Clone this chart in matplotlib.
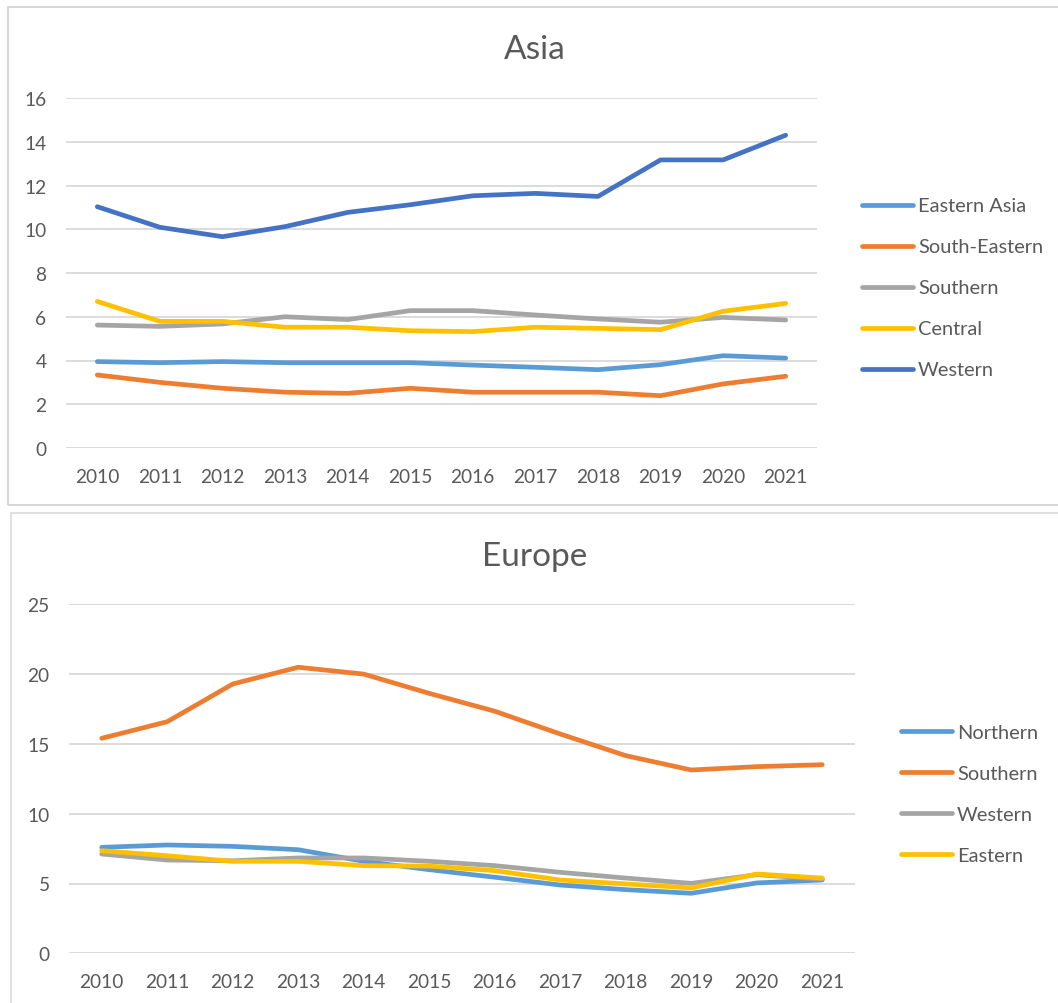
### Two Excel-style line charts: Asia and Europe regional series, 2010-2021

import matplotlib.pyplot as plt
from matplotlib.patches import Rectangle

##### DATA #####

years = ["2010", "2011", "2012", "2013", "2014", "2015",
         "2016", "2017", "2018", "2019", "2020", "2021"]

# Asia
asia_labels = ["Eastern Asia", "South-Eastern", "Southern", "Central", "Western"]
asia_eastern = [3.95, 3.90, 3.95, 3.90, 3.90, 3.90, 3.79, 3.69, 3.58, 3.81, 4.22, 4.11]
asia_south_eastern = [3.34, 3.00, 2.73, 2.55, 2.50, 2.73, 2.55, 2.55, 2.55, 2.39, 2.93, 3.28]
asia_southern = [5.62, 5.56, 5.67, 6.00, 5.87, 6.28, 6.28, 6.08, 5.90, 5.75, 5.97, 5.85]
asia_central = [6.70, 5.79, 5.79, 5.52, 5.52, 5.36, 5.32, 5.52, 5.47, 5.41, 6.25, 6.61]
asia_western = [11.03, 10.09, 9.66, 10.12, 10.77, 11.12, 11.53, 11.64, 11.50, 13.17, 13.17, 14.30]

# Europe
europe_labels = ["Northern", "Southern", "Western", "Eastern"]
europe_northern = [7.59, 7.76, 7.66, 7.42, 6.59, 5.99, 5.45, 4.89, 4.56, 4.30, 5.04, 5.25]
europe_southern = [15.40, 16.59, 19.29, 20.49, 20.00, 18.62, 17.34, 15.71, 14.16, 13.13, 13.37, 13.51]
europe_western = [7.11, 6.68, 6.63, 6.83, 6.83, 6.59, 6.28, 5.80, 5.39, 5.01, 5.63, 5.32]
europe_eastern = [7.35, 6.99, 6.59, 6.59, 6.28, 6.25, 5.92, 5.25, 4.97, 4.68, 5.68, 5.39]

##### STYLE #####

colors = ["#5B9BD5", "#ED7D31", "#A5A5A5", "#FFC000", "#4472C4"]
txt = "#595959"
grid = "#D9D9D9"
W, H = 1058, 1004

plt.rcParams["font.family"] = ["Lato", "DejaVu Sans"]

fig = plt.figure(figsize=(W / 100, H / 100), dpi=100)

# Chart frames (pixel coords -> figure fraction)
def px_rect(x0, y0, x1, y1, ec):
    fig.patches.append(Rectangle((x0 / W, 1 - y1 / H), (x1 - x0) / W, (y1 - y0) / H,
                                 transform=fig.transFigure, fill=False,
                                 edgecolor=ec, linewidth=1.2, zorder=0))

px_rect(8, 8, 1070, 506, "#D0D0D0")
px_rect(11, 514, 1070, 1020, "#DCDCDC")


def draw_chart(rect, title, title_y, series, labels, ymax, ystep, leg_xy):
    ax = fig.add_axes(rect)
    x = range(len(years))
    for vals, lab, c in zip(series, labels, colors):
        ax.plot(x, vals, color=c, lw=3.4, label=lab,
                solid_capstyle="round", solid_joinstyle="round")
    ax.set_xlim(-0.5, len(years) - 0.5)
    ax.set_ylim(0, ymax)
    ax.set_yticks(range(0, ymax + 1, ystep))
    ax.set_xticks(list(x))
    ax.set_xticklabels(years)
    ax.grid(axis="y", color=grid, lw=1.3)
    ax.set_axisbelow(True)
    for s in ax.spines.values():
        s.set_visible(False)
    ax.tick_params(length=0, labelsize=13.8, colors=txt)
    ax.tick_params(axis="y", pad=14)
    ax.tick_params(axis="x", pad=14.5)
    fig.text(535 / W, 1 - title_y / H, title, ha="center", va="center",
             fontsize=24, color=txt)
    leg = ax.legend(loc="center left", bbox_to_anchor=(leg_xy[0] / W, 1 - leg_xy[1] / H),
                    bbox_transform=fig.transFigure, frameon=False, fontsize=14.4,
                    handlelength=2.55, handletextpad=0.25, labelspacing=1.2,
                    borderpad=0, borderaxespad=0)
    for t in leg.get_texts():
        t.set_color(txt)
    return ax


draw_chart([66 / W, 1 - 449 / H, 751 / W, 350 / H], "Asia", 50,
           [asia_eastern, asia_south_eastern, asia_southern, asia_central, asia_western],
           asia_labels, 16, 2, (862, 289))

draw_chart([69 / W, 1 - 954.3 / H, 786 / W, 349 / H], "Europe", 557,
           [europe_northern, europe_southern, europe_western, europe_eastern],
           europe_labels, 25, 5, (901, 795))

fig.savefig("out.png", dpi=100)
